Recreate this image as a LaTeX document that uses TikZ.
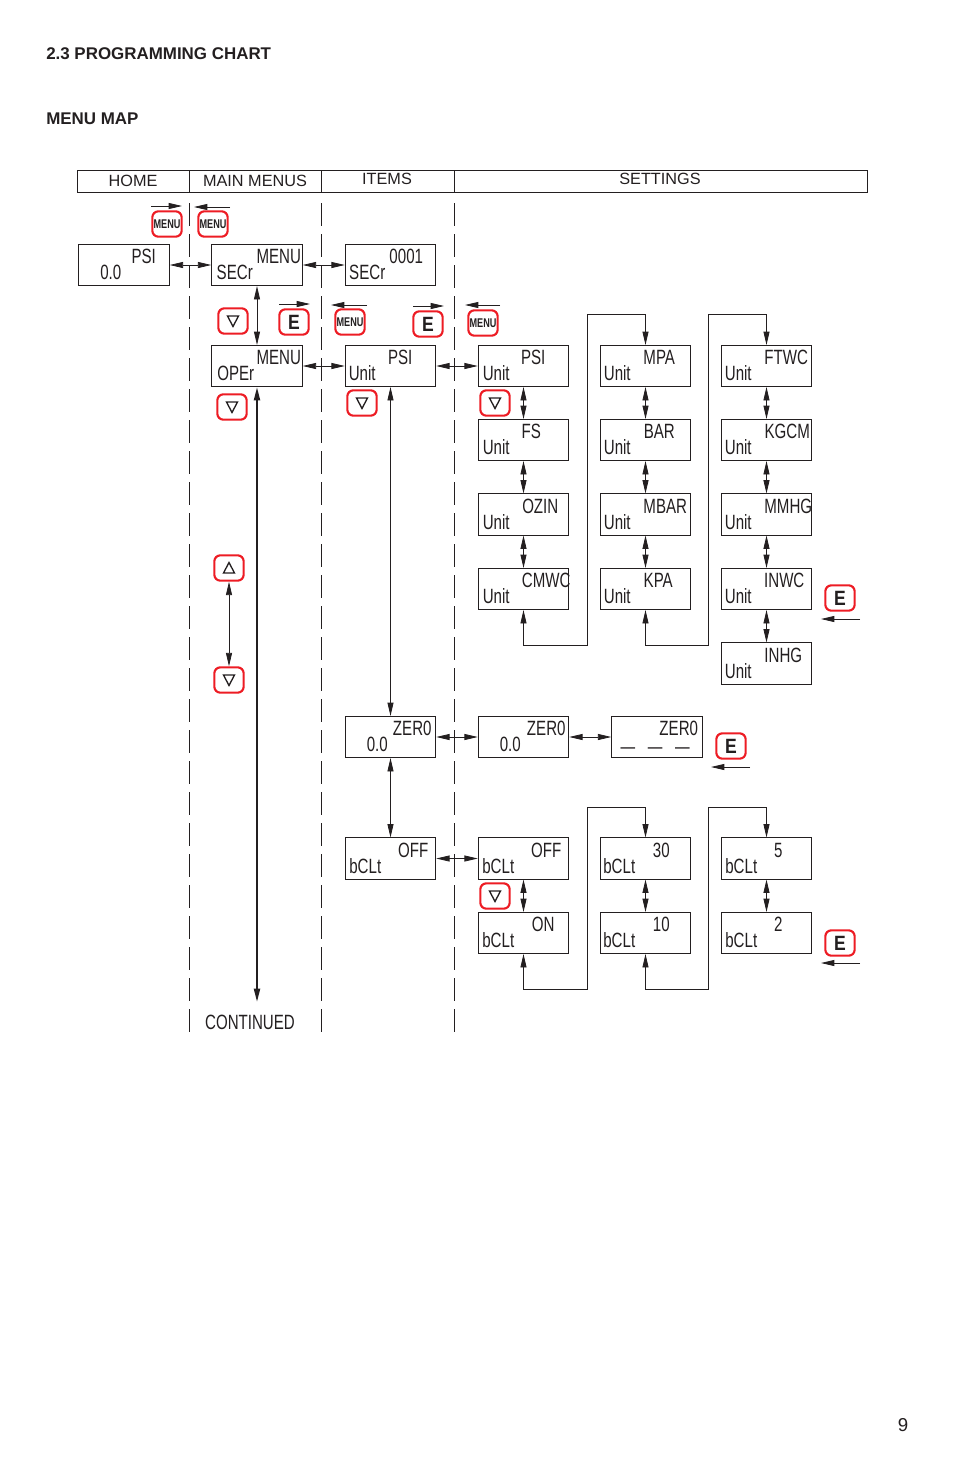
\documentclass[tikz,border=0pt]{standalone}
\usepackage{fontspec}
\setmainfont{Liberation Sans}
\usetikzlibrary{arrows.meta}
\definecolor{btnred}{RGB}{237,28,36}
\definecolor{ink}{RGB}{35,31,32}
\begin{document}
\begin{tikzpicture}[x=0.75pt,y=-0.75pt,line join=miter,>={Stealth[length=10pt,width=4.5pt,inset=0pt]}]
\tikzset{every node/.style={text=ink,inner sep=0pt}}
\tikzset{lcd/.style={draw=ink,line width=0.6pt,minimum width=68pt,minimum height=31pt}}
\tikzset{lcdtext/.style={anchor=base,xscale=0.73,font=\fontsize{15.5}{18}\selectfont}}
\tikzset{btn/.style={draw=btnred,line width=1.6pt,rounded corners=4.5pt,minimum width=22pt,minimum height=19pt}}
\tikzset{dbl/.style={<->,draw=ink,line width=0.6pt}}
\tikzset{sgl/.style={->,draw=ink,line width=0.6pt}}
\tikzset{sep/.style={draw=ink,line width=0.6pt,dash pattern=on 17pt off 6.25pt}}
\tikzset{head/.style={font=\fontsize{12.2}{14}\selectfont}}
\tikzset{tri/.style={draw=ink,line width=1pt}}
\def\menukey{\scalebox{0.72}[1]{\fontsize{9.5}{11}\selectfont\bfseries MENU}}
\def\ekey{\scalebox{0.85}[1]{\fontsize{15.5}{18}\selectfont\bfseries E}}
\useasboundingbox (0,0) rectangle (954,1475);
% titles
\node[anchor=base west,font=\fontsize{12.7}{14}\selectfont\bfseries] (title) at (46,59) {2.3 PROGRAMMING CHART};
\node[anchor=base west,font=\fontsize{12.7}{14}\selectfont\bfseries] (subtitle) at (46,124) {MENU MAP};
\node[font=\fontsize{14}{16}\selectfont] (pageno) at (903,1425) {9};
% column heads
\draw[draw=ink,line width=0.6pt] (77,170) rectangle (867.5,192);
\foreach \x in {189,321,454}\draw[draw=ink,line width=0.6pt] (\x,170)--(\x,192);
\node[head] (hhome) at (133,181) {HOME};
\node[head] (hmain) at (255,181) {MAIN MENUS};
\node[head] (hitems) at (387,179) {ITEMS};
\node[head] (hset) at (660,179) {SETTINGS};
\foreach \x in {189,321,454}\draw[sep] (\x,203)--(\x,1034);
% display boxes: name/x/y/upper/dx/lower/dx
\foreach \nm/\x/\y/\utxt/\ux/\ltxt/\lx in {
 home/124/265/PSI/65/0.0/32,
 secr/257/265/MENU/67/SECr/23,
 code/390.5/265/0001/61/SECr/22,
 oper/257/366/MENU/67/OPEr/24,
 unit/390.5/366/PSI/55/Unit/17,
 psi/523.5/366/PSI/55/Unit/18,
 fs/523.5/440/FS/53/Unit/18,
 ozin/523.5/514.5/OZIN/62/Unit/18,
 cmwc/523.5/589/CMWC/68/Unit/18,
 mpa/645.5/366/MPA/59/Unit/17,
 bar/645.5/440/BAR/59/Unit/17,
 mbar/645.5/514.5/MBAR/65/Unit/17,
 kpa/645.5/589/KPA/58/Unit/17,
 ftwc/766.5/366/FTWC/65/Unit/17,
 kgcm/766.5/440/KGCM/66/Unit/17,
 mmhg/766.5/514.5/MMHG/67/Unit/17,
 inwc/766.5/589/INWC/63/Unit/17,
 inhg/766.5/663.5/INHG/62/Unit/17,
 zeroa/390.5/737/ZER0/67/0.0/32,
 zerob/523.5/737/ZER0/68/0.0/32,
 offa/390.5/858.5/OFF/68/bCLt/20,
 offb/523.5/858.5/OFF/68/bCLt/20,
 on/523.5/933/ON/65/bCLt/20,
 bca/645.5/858.5/30/61/bCLt/19,
 bcb/645.5/933/10/61/bCLt/19,
 bcc/766.5/858.5/5/57/bCLt/20,
 bcd/766.5/933/2/57/bCLt/20}{
 \node[lcd] (\nm) at (\x,\y) {};
 \node[lcdtext] (\nm u) at ([shift={(\ux+0.5,20)}]\nm.north west) {\utxt};
 \node[lcdtext] (\nm l) at ([shift={(\lx+0.5,36)}]\nm.north west) {\ltxt};
}
\node[lcd] (zeroc) at (657,737) {};
\node[lcdtext] (zerocu) at ([shift={(67.5,20)}]zeroc.north west) {ZER0};
\node[lcdtext,xscale=1] (zerocl) at ([shift={(44,38)}]zeroc.north west) {\fontsize{15}{18}\selectfont —\hspace{13pt}—\hspace{13pt}—};
% keys
\foreach \nm/\x/\y in {ma/167/224,mb/213/224,mc/350/322,md/483/323}\node[btn] (\nm) at (\x,\y) {\menukey};
\foreach \nm/\x/\y in {ea/294/322,eb/428/324,ec/840/598,ed/731/746,ee/840/943}\node[btn] (\nm) at (\x,\y) {\ekey};
\foreach \nm/\x/\y in {da/233/321,db/232/407,dc/362/403,dd/495/403,de/229/680,df/495/896}{
 \node[btn] (\nm) at (\x,\y) {};
 \draw[tri] ([shift={(-5.5,-5)}]\nm.center)--++(11,0)--++(-5.5,10.5)--cycle;
}
\node[btn] (ua) at (229,568) {};
\draw[tri] ([shift={(-5.5,5)}]ua.center)--++(11,0)--++(-5.5,-10.5)--cycle;
% key arrows
\foreach \nm/\xa/\xb/\y in {ra/151/182/206,rb/230/194/207,rc/279/310/304,rd/367/331/305,re/413/444/306,rf/500/465/305,rg/860/821/619,rh/750/711/767,ri/860/821/963}{
 \coordinate (\nm s) at (\xa,\y);
 \coordinate (\nm e) at (\xb,\y);
 \draw[sgl] (\nm s)--(\nm e);
}
% links
\foreach \a/\b in {home/secr,secr/code,secr/oper,oper/unit,unit/psi,psi/fs,fs/ozin,ozin/cmwc,mpa/bar,bar/mbar,mbar/kpa,ftwc/kgcm,kgcm/mmhg,mmhg/inwc,inwc/inhg,unit/zeroa,zeroa/zerob,zerob/zeroc,zeroa/offa,offa/offb,offb/on,bca/bcb,bcc/bcd}\draw[dbl] (\a)--(\b);
\draw[dbl] (cmwc.south)--++(0,35)--++(63.5,0)--++(0,-331)-|(mpa.north);
\draw[dbl] (kpa.south)--++(0,35)--++(62.5,0)--++(0,-331)-|(ftwc.north);
\draw[dbl] (on.south)--++(0,35)--++(63.5,0)--++(0,-182)-|(bca.north);
\draw[dbl] (bcb.south)--++(0,35)--++(62.5,0)--++(0,-182)-|(bcc.north);
\draw[dbl] (ua)--(de);
\node[lcdtext] (cont) at (250,1029) {CONTINUED};
\coordinate (contend) at (257,1002);
\draw[<->,draw=ink,line width=1.5pt] (oper.south)--(contend);
\end{tikzpicture}
\end{document}
